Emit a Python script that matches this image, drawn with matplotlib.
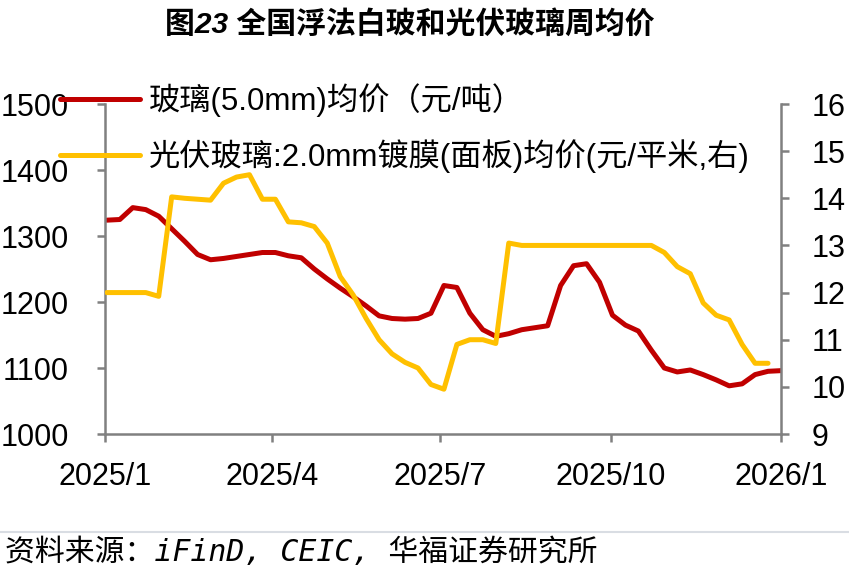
import matplotlib
matplotlib.use('Agg')
import matplotlib.pyplot as plt
from matplotlib.lines import Line2D
import pandas as pd

plt.rcParams['font.family'] = ['Liberation Sans', 'Noto Sans CJK SC', 'DejaVu Sans']

# ---- data ----
float_glass = [1324, 1325, 1343, 1340, 1330, 1311, 1292, 1272, 1264, 1266, 1269, 1272, 1275,
               1275, 1270, 1267, 1250, 1235, 1221, 1208, 1194, 1179, 1175, 1174, 1175, 1183,
               1225, 1222, 1183, 1158, 1148, 1152, 1158, 1161, 1164, 1225, 1255, 1258, 1230,
               1180, 1165, 1156, 1127, 1100, 1094, 1097, 1090, 1082, 1073, 1076, 1090, 1095, 1096]
pv_glass = [12.0, 12.0, 12.0, 12.0, 11.92, 14.03, 14.0, 13.98, 13.96, 14.32, 14.45, 14.5,
            13.98, 13.98, 13.5, 13.48, 13.4, 13.05, 12.34, 11.95, 11.45, 11.0, 10.7, 10.52,
            10.4, 10.05, 9.95, 10.9, 11.0, 11.0, 10.92, 13.05, 13.0, 13.0, 13.0, 13.0, 13.0,
            13.0, 13.0, 13.0, 13.0, 13.0, 13.0, 12.85, 12.55, 12.4, 11.78, 11.52, 11.42, 10.9,
            10.5, 10.5]
start_date = '2025-01-02'
float_label = '玻璃(5.0mm)均价（元/吨）'
pv_label = '光伏玻璃:2.0mm镀膜(面板)均价(元/平米,右)'
x_tick_dates = ['2025-01-01', '2025-04-01', '2025-07-01', '2025-10-01', '2026-01-01']
x_tick_labels = ['2025/1', '2025/4', '2025/7', '2025/10', '2026/1']
left_ticks = [1000, 1100, 1200, 1300, 1400, 1500]
right_ticks = [9, 10, 11, 12, 13, 14, 15, 16]
title = '图23 全国浮法白玻和光伏玻璃周均价'
source = '资料来源：iFinD, CEIC, 华福证券研究所'

dates_float = pd.date_range(start_date, periods=len(float_glass), freq='7D')
dates_pv = pd.date_range(start_date, periods=len(pv_glass), freq='7D')

RED = '#C00000'
YEL = '#FFC000'
GRAY = '#808080'

W, H = 849, 576
fig = plt.figure(figsize=(W / 100, H / 100), dpi=100)
ax = fig.add_axes([105 / W, 1 - 434 / H, (781 - 105) / W, (434 - 104) / H])
ax2 = ax.twinx()
ax2.patch.set_visible(False)

l1, = ax.plot(dates_float, float_glass, color=RED, lw=3.6,
              solid_joinstyle='round', solid_capstyle='round')
l2, = ax2.plot(dates_pv, pv_glass, color=YEL, lw=3.6,
               solid_joinstyle='round', solid_capstyle='round')

ax.set_ylim(1000, 1500)
ax2.set_ylim(9, 16)
ax.set_yticks(left_ticks)
ax2.set_yticks(right_ticks)
xt = pd.to_datetime(x_tick_dates)
ax.set_xlim(xt[0], xt[-1])
ax.set_xticks(xt)
ax.set_xticklabels(x_tick_labels)

for a in (ax, ax2):
    a.spines['top'].set_visible(False)
ax.spines['right'].set_visible(False)
ax2.spines['left'].set_visible(False)
ax2.spines['bottom'].set_visible(False)
for sp in (ax.spines['left'], ax.spines['bottom'], ax2.spines['right']):
    sp.set_color(GRAY)
    sp.set_linewidth(1.8)

ax.tick_params(axis='y', direction='out', length=6, width=1.8, color=GRAY,
               labelsize=22, pad=20)
ax.tick_params(axis='x', direction='out', length=6, width=1.8, color=GRAY,
               labelsize=22, pad=14)
ax2.tick_params(axis='y', direction='out', length=6, width=1.8, color=GRAY,
                labelsize=22, pad=16)

fig.legend(handles=[l1, l2], labels=[float_label, pv_label], loc='upper left',
           bbox_to_anchor=(60 / W, 1 - 83 / H), frameon=False, fontsize=22.5,
           handlelength=2.55, handletextpad=0.3, labelspacing=0.72,
           borderpad=0, borderaxespad=0)

fig.text(410 / W, 1 - 24 / H, title, ha='center', va='center', fontsize=21.5,
         fontweight='bold', style='italic')

fig.add_artist(Line2D([0, 1], [1 - 532 / H] * 2, transform=fig.transFigure,
                      color='#d9dde3', lw=1.5))
fig.text(5 / W, 1 - 552 / H, source, ha='left', va='center', fontsize=21.5,
         style='italic', family=['DejaVu Sans Mono', 'Noto Sans CJK SC'])

fig.savefig('out.png', dpi=100)
